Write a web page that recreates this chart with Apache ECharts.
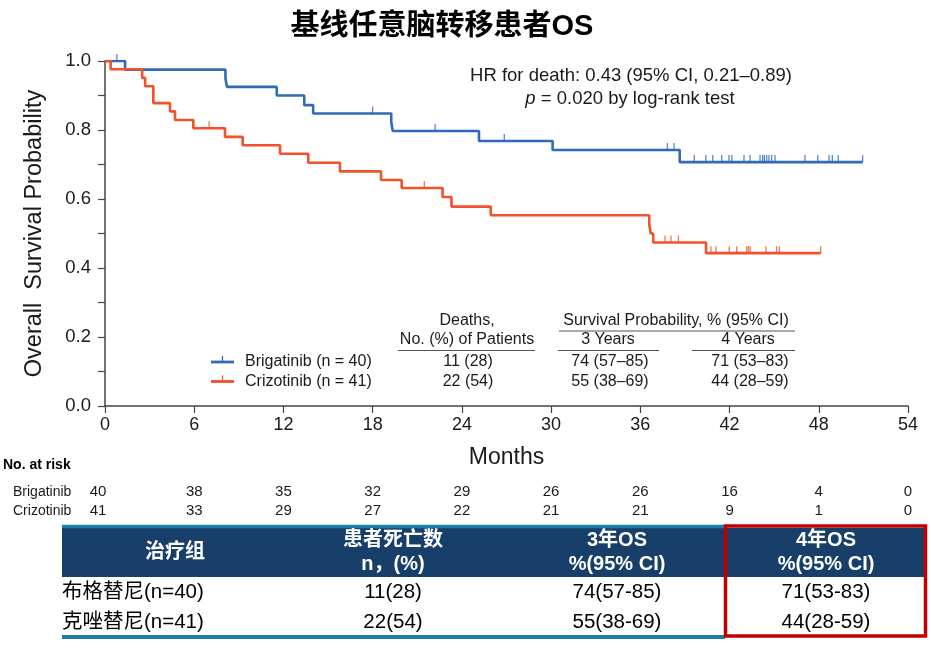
<!DOCTYPE html>
<html><head><meta charset="utf-8">
<style>html,body{margin:0;padding:0;background:#fff}#c{width:931px;height:648px}</style>
<script src="https://cdn.jsdelivr.net/npm/echarts@6/dist/echarts.min.js"></script>
</head><body><div id="c"></div>
<script>
// ---------------- data ----------------
const chartTitle = '基线任意脑转移患者OS';
const xTickValues = [0, 6, 12, 18, 24, 30, 36, 42, 48, 54];
const yTickLabels = ['0.0', '0.2', '0.4', '0.6', '0.8', '1.0'];

const brigTimes = [0, 1.35, 8.1, 8.2, 11.55, 13.4, 14.0, 19.25, 19.35, 25.15, 30.1, 38.65, 50.95];
const brigSurv  = [1.0, 0.975, 0.95, 0.925, 0.90, 0.872, 0.848, 0.823, 0.797, 0.768, 0.742, 0.707, 0.707];
const brigCensor = [0.8, 18.0, 22.2, 26.85, 37.82, 38.27, 39.63, 40.4, 40.87, 41.47, 41.96, 42.15, 42.97, 43.38,
  44.05, 44.23, 44.34, 44.5, 44.65, 44.83, 45.06, 47.07, 47.93, 48.69, 48.91, 49.31, 50.95];

const crizTimes = [0, 0.38, 2.5, 2.7, 3.25, 4.37, 4.71, 5.94, 8.07, 9.26, 11.77, 13.67, 15.8, 18.56, 19.95,
  22.7, 23.3, 25.94, 36.6, 36.7, 36.87, 40.42, 48.13];
const crizSurv  = [1.0, 0.976, 0.951, 0.927, 0.878, 0.854, 0.829, 0.805, 0.780, 0.756, 0.731, 0.705, 0.680, 0.655, 0.632,
  0.606, 0.578, 0.553, 0.527, 0.500, 0.474, 0.443, 0.443];
const crizCensor = [7.0, 21.47, 37.66, 38.06, 38.56, 40.75, 41.09, 41.98, 42.48, 43.15, 43.26, 43.38, 44.45, 45.17, 45.35, 48.13];

const armNames = ['Brigatinib', 'Crizotinib'];
const legendLabels = ['Brigatinib (n = 40)', 'Crizotinib (n = 41)'];
const legendDeaths = ['11 (28)', '22 (54)'];
const legend3y = ['74 (57–85)', '55 (38–69)'];
const legend4y = ['71 (53–83)', '44 (28–59)'];

const hrLine1 = 'HR for death: 0.43 (95% CI, 0.21–0.89)';
const hrLine2 = ' = 0.020 by log-rank test';

const riskMonths = [0, 6, 12, 18, 24, 30, 36, 42, 48, 54];
const riskBrig = [40, 38, 35, 32, 29, 26, 26, 16, 4, 0];
const riskCriz = [41, 33, 29, 27, 22, 21, 21, 9, 1, 0];

const tableHead1 = ['治疗组', '患者死亡数', '3年OS', '4年OS'];
const tableHead2 = ['', 'n，(%)', '%(95% CI)', '%(95% CI)'];
const tableRow1 = ['布格替尼(n=40)', '11(28)', '74(57-85)', '71(53-83)'];
const tableRow2 = ['克唑替尼(n=41)', '22(54)', '55(38-69)', '44(28-59)'];

// ---------------- styles ----------------
const BLUE = '#2f6bb7';
const RED = '#f2512a';
const TXT = '#1a1a1a';
const NARROW = '"Liberation Sans Narrow", "Arial Narrow", "Liberation Sans", Arial, sans-serif';
const SANS = '"Liberation Sans", Arial, sans-serif';
const CJK = '"Liberation Sans", Arial, "Noto Sans CJK SC", sans-serif';

function toPairs(t, s) { return t.map((v, i) => [v, s[i]]); }
function levelAt(t, s, x) { let v = s[0]; for (let i = 0; i < t.length; i++) if (t[i] <= x) v = s[i]; return v; }
function censorPairs(t, s, c) { return c.map(x => [x, levelAt(t, s, x)]); }

const chart = echarts.init(document.getElementById('c'), null, { renderer: 'canvas' });

const option = {
  animation: false,
  backgroundColor: '#fff',
  grid: { left: 105, right: 23, top: 61, bottom: 242 },
  xAxis: {
    type: 'value', min: 0, max: 54, interval: 6,
    name: 'Months', nameLocation: 'middle', nameGap: 40,
    nameTextStyle: { fontSize: 23, color: TXT, fontFamily: NARROW },
    axisLine: { show: true, lineStyle: { color: '#444', width: 1.5 } },
    axisTick: { show: true, inside: false, length: 7, lineStyle: { color: '#444', width: 1.2 } },
    axisLabel: { fontSize: 18, color: TXT, fontFamily: NARROW, margin: 10,
      formatter: v => xTickValues.indexOf(v) >= 0 ? String(v) : '' },
    splitLine: { show: false }
  },
  yAxis: {
    type: 'value', min: 0, max: 1, interval: 0.1,
    name: 'Overall  Survival Probability', nameLocation: 'middle', nameGap: 58, nameRotate: 90,
    nameTextStyle: { fontSize: 23.5, color: TXT, fontFamily: SANS },
    axisLine: { show: true, lineStyle: { color: '#444', width: 1.5 } },
    axisTick: { show: true, inside: false, length: 7, lineStyle: { color: '#444', width: 1.2 } },
    axisLabel: { fontSize: 18.5, color: TXT, fontFamily: SANS, margin: 14,
      formatter: v => { const k = Math.round(v * 10); return k % 2 === 0 ? yTickLabels[k / 2] : ''; } },
    splitLine: { show: false }
  },
  series: [
    { name: armNames[0], type: 'line', step: 'end', data: toPairs(brigTimes, brigSurv), showSymbol: false,
      lineStyle: { color: BLUE, width: 2.6 }, z: 3 },
    { name: armNames[1], type: 'line', step: 'end', data: toPairs(crizTimes, crizSurv), showSymbol: false,
      lineStyle: { color: RED, width: 2.6 }, z: 4 },
    { name: armNames[0] + ' censored', type: 'scatter', data: censorPairs(brigTimes, brigSurv, brigCensor),
      symbol: 'rect', symbolSize: [1.3, 7], symbolOffset: [0, -3.5], itemStyle: { color: BLUE }, z: 5 },
    { name: armNames[1] + ' censored', type: 'scatter', data: censorPairs(crizTimes, crizSurv, crizCensor),
      symbol: 'rect', symbolSize: [1.3, 7], symbolOffset: [0, -3.5], itemStyle: { color: RED }, z: 5 }
  ]
};
chart.setOption(option);

// ---------------- annotations ----------------
const px = m => chart.convertToPixel({ xAxisIndex: 0 }, m);
const g = [];
function txt(text, x, y, font, opts) {
  g.push(Object.assign({ type: 'text', z: 100,
    style: Object.assign({ text: text, x: x, y: y, font: font, fill: TXT, textAlign: 'center', textVerticalAlign: 'middle' }, opts || {}) }));
}
function line(x1, y1, x2, y2, stroke, w) {
  g.push({ type: 'line', z: 100, shape: { x1, y1, x2, y2 }, style: { stroke: stroke, lineWidth: w } });
}

// title
txt(chartTitle, 442, 27, 'bold 29px "Liberation Sans", Arial, "Noto Sans CJK SC", sans-serif', { fill: '#000' });

// HR text
txt(hrLine1, 631, 76, '18.5px ' + SANS);
g.push({ type: 'text', z: 100, style: { text: '{i|p}' + hrLine2, x: 630, y: 99, font: '18.5px ' + SANS, fill: TXT,
  textAlign: 'center', textVerticalAlign: 'middle',
  rich: { i: { fontStyle: 'italic', fontSize: 18.5, fontFamily: SANS, fill: TXT } } } });

// in-plot legend table
const LF = '16px ' + SANS;
txt('Deaths,', 467, 321, LF);
txt('No. (%) of Patients', 467, 340, LF);
line(398, 350.5, 535, 350.5, '#555', 1.2);
txt('Survival Probability, % (95% CI)', 676, 321, LF);
line(559, 331, 795, 331, '#555', 1.2);
txt('3 Years', 608, 340, LF);
line(558, 350.5, 659, 350.5, '#555', 1.2);
txt('4 Years', 748, 340, LF);
line(692, 350.5, 795, 350.5, '#555', 1.2);
const legendColors = [BLUE, RED];
[362, 381.5].forEach((y, i) => {
  line(211, y, 234, y, legendColors[i], 2.8);
  line(222.5, y, 222.5, y - 6, legendColors[i], 1.3);
  txt(legendLabels[i], 245, y, LF, { textAlign: 'left' });
  txt(legendDeaths[i], 468, y, LF);
  txt(legend3y[i], 610, y, LF);
  txt(legend4y[i], 750, y, LF);
});

// risk table
txt('No. at risk', 3, 465, 'bold 14px ' + NARROW, { textAlign: 'left', fill: '#000' });
txt(armNames[0], 13, 492, '14px ' + NARROW, { textAlign: 'left' });
txt(armNames[1], 13, 511, '14px ' + NARROW, { textAlign: 'left' });
riskMonths.forEach((m, i) => {
  const x = i === 0 ? px(m) - 7 : px(m);
  txt(String(riskBrig[i]), x, 492, '15px ' + NARROW);
  txt(String(riskCriz[i]), x, 511, '15px ' + NARROW);
});

// bottom table
const NAVY = '#173f6a';
const TEAL = '#1c7cab';
g.push({ type: 'rect', z: 90, shape: { x: 62, y: 528, width: 863, height: 49 }, style: { fill: NAVY } });
line(62, 526.5, 725, 526.5, TEAL, 3.5);
line(62, 637, 725, 637, TEAL, 4);
const colX = [175, 393, 617, 826];
const HF = 'bold 20px "Liberation Sans", Arial, "Noto Sans CJK SC", sans-serif';
txt(tableHead1[0], colX[0], 552, HF, { fill: '#fff' });
for (let c = 1; c < 4; c++) {
  txt(tableHead1[c], colX[c], 540, HF, { fill: '#fff' });
  txt(tableHead2[c], colX[c], 564, HF, { fill: '#fff' });
}
const RF = '20.5px ' + CJK;
[[tableRow1, 592], [tableRow2, 622]].forEach(([row, y]) => {
  txt(row[0], 62, y, RF, { textAlign: 'left', fill: '#000' });
  for (let c = 1; c < 4; c++) txt(row[c], colX[c], y, RF, { fill: '#000' });
});
g.push({ type: 'rect', z: 110, shape: { x: 725.5, y: 526, width: 200, height: 110 },
  style: { fill: 'none', stroke: '#c00000', lineWidth: 3.5 } });

chart.setOption({ graphic: g });
</script></body></html>
